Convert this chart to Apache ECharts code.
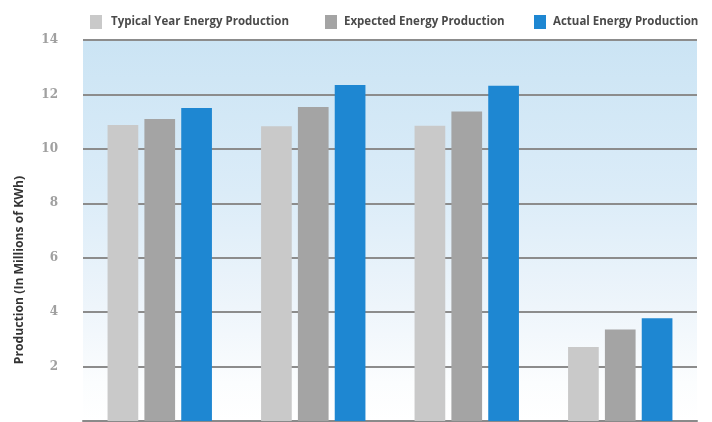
<!DOCTYPE html>
<html>
<head>
<meta charset="utf-8">
<script src="https://cdn.jsdelivr.net/npm/echarts@6/dist/echarts.min.js"></script>
<style>
  html, body { margin: 0; padding: 0; background: #ffffff; }
  #chart { width: 712px; height: 422px; }
</style>
</head>
<body>
<div id="chart"></div>
<script>
// Energy production per period (millions of KWh)
const categories = ['Period 1', 'Period 2', 'Period 3', 'Period 4'];
const seriesNames = ['Typical Year Energy Production', 'Expected Energy Production', 'Actual Energy Production'];
const typicalValues = [10.88, 10.83, 10.85, 2.72];
const expectedValues = [11.1, 11.54, 11.37, 3.36];
const actualValues = [11.5, 12.35, 12.32, 3.78];
const yTicks = [0, 2, 4, 6, 8, 10, 12, 14];

const colors = ['#c9c9c9', '#a4a4a4', '#1e87d2'];
const legendLeft = [85, 320, 529];
const legendTextPad = [4, 2, 2];

const chart = echarts.init(document.getElementById('chart'), null, { renderer: 'canvas' });

const option = {
  backgroundColor: '#ffffff',
  animation: false,
  legend: seriesNames.map((name, i) => ({
    data: [name],
    top: 10,
    left: legendLeft[i],
    itemWidth: 12,
    itemHeight: 14,
    icon: 'rect',
    textStyle: {
      color: '#4a4a4a',
      fontFamily: 'Open Sans',
      fontSize: 11.5,
      fontWeight: 'bold',
      padding: [0, 0, 0, legendTextPad[i]]
    }
  })),
  grid: {
    left: 83,
    right: 15,
    top: 40,
    bottom: 1,
    show: true,
    borderWidth: 0,
    backgroundColor: new echarts.graphic.LinearGradient(0, 0, 0, 1, [
      { offset: 0, color: '#cbe4f4' },
      { offset: 0.4, color: '#dbecf8' },
      { offset: 0.7, color: '#eef5fb' },
      { offset: 0.9, color: '#fbfdfe' },
      { offset: 1, color: '#ffffff' }
    ])
  },
  xAxis: {
    type: 'category',
    data: categories,
    axisLine: { show: true, lineStyle: { color: '#8a8a8a', width: 2 } },
    axisTick: { show: false },
    axisLabel: { show: false }
  },
  yAxis: {
    type: 'value',
    min: yTicks[0],
    max: yTicks[yTicks.length - 1],
    interval: 2,
    axisLine: { show: false },
    axisTick: { show: false },
    splitLine: { show: true, lineStyle: { color: '#8c8c8c', width: 2 } },
    axisLabel: {
      margin: 25,
      color: '#a0a0a0',
      fontFamily: 'DejaVu Serif',
      fontSize: 12,
      fontWeight: 'bold',
      formatter: v => (v === 0 ? '' : String(v))
    }
  },
  graphic: [{
    type: 'text',
    x: 14,
    y: 270,
    rotation: Math.PI / 2,
    style: {
      text: 'Production (In Millions of KWh)',
      fill: '#333333',
      font: 'bold 12.2px "Open Sans"',
      align: 'center',
      verticalAlign: 'top'
    }
  }],
  series: [
    { name: seriesNames[0], type: 'bar', data: typicalValues, itemStyle: { color: colors[0] } },
    { name: seriesNames[1], type: 'bar', data: expectedValues, itemStyle: { color: colors[1] } },
    { name: seriesNames[2], type: 'bar', data: actualValues, itemStyle: { color: colors[2] } }
  ].map(s => Object.assign(s, { barWidth: '20%', barGap: '20%' }))
};

chart.setOption(option);
</script>
</body>
</html>
